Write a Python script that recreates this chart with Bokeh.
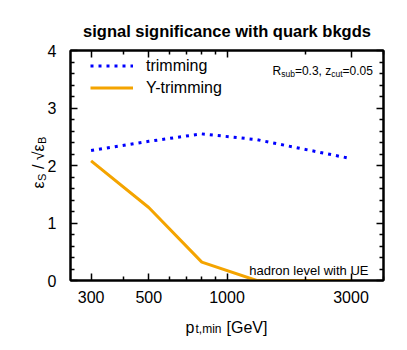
import math
from bokeh.plotting import figure
from bokeh.models import (FixedTicker, LogAxis, LinearAxis, Label, Legend,
                          LegendItem, Range1d)
from bokeh.embed import file_html
from bokeh.resources import INLINE

# ---- data ----
pt_min = [300, 500, 800, 1300, 3000]
trimming = [2.26, 2.42, 2.55, 2.45, 2.12]
y_trimming = [2.08, 1.27, 0.32, 0.0, 0.0]

x_ticks = [300, 500, 1000, 3000]
x_minor = [400, 600, 700, 800, 900, 2000, 4000]
y_ticks = [0, 1, 2, 3, 4]
y_minor = [i / 5 for i in range(21) if i % 5]

FONT = "Liberation Sans"
BLUE = "#0000ff"
ORANGE = "#f4a400"

p = figure(width=400, height=345, x_axis_type="log",
           x_range=Range1d(250, 4000), y_range=Range1d(0, 4),
           output_backend="svg", toolbar_location=None,
           min_border_left=70, min_border_right=17,
           min_border_top=50, min_border_bottom=65)
p.background_fill_color = "white"
p.border_fill_color = "white"
p.xgrid.visible = False
p.ygrid.visible = False
p.outline_line_color = "black"
p.outline_line_width = 2


def style(ax):
    ax.axis_line_width = 2
    ax.axis_line_color = "black"
    ax.major_tick_in = 7
    ax.major_tick_out = 0
    ax.minor_tick_in = 4
    ax.minor_tick_out = 0
    ax.major_tick_line_width = 1.5
    ax.minor_tick_line_width = 1.5
    ax.major_label_text_font = FONT
    ax.major_label_text_font_size = "16px"
    ax.major_label_text_color = "black"


xt = FixedTicker(ticks=x_ticks, minor_ticks=x_minor)
yt = FixedTicker(ticks=y_ticks, minor_ticks=y_minor)

p.xaxis.ticker = xt
p.yaxis.ticker = yt
style(p.xaxis[0])
style(p.yaxis[0])
p.xaxis.major_label_standoff = 10
p.yaxis.major_label_standoff = 14

top = LogAxis(ticker=xt, major_label_overrides={t: "" for t in x_ticks})
style(top)
top.major_label_standoff = 0
top.major_label_text_font_size = "1px"
p.add_layout(top, "above")

right = LinearAxis(ticker=yt, major_label_overrides={t: "" for t in y_ticks})
style(right)
right.major_label_standoff = 0
right.major_label_text_font_size = "1px"
p.add_layout(right, "right")

r1 = p.line(pt_min, trimming, line_color=BLUE, line_width=3,
            line_dash="3 5", line_cap="butt")
r2 = p.line(pt_min, y_trimming, line_color=ORANGE, line_width=3)

legend = Legend(items=[LegendItem(label="trimming", renderers=[r1]),
                       LegendItem(label="Y-trimming", renderers=[r2])],
                location=(20, 183), glyph_width=43, glyph_height=19,
                label_height=19, spacing=3, padding=7, margin=0,
                label_standoff=13, label_text_font_size="16px",
                label_text_font=FONT, label_text_color="black",
                border_line_color=None, background_fill_alpha=0)
p.add_layout(legend)


def lab(x, y, xo, yo, t, size, align="left", angle=0, side="center",
        bold=False):
    lbl = Label(x=x, y=y, x_offset=xo, y_offset=yo, text=t,
                text_font=FONT, text_font_size=f"{size}px",
                text_color="black",
                text_align=align, text_baseline="alphabetic",
                text_font_style="bold" if bold else "normal",
                angle=angle)
    p.add_layout(lbl, side)


# title (outside the frame -> side panel, not clipped)
lab(1000, 4, 0, 20, "signal significance with quark bkgds", 16.5,
    align="center", side="above", bold=True)

# annotations inside the frame
lab(4000, 0, -15, 10, "hadron level with UE", 13, align="right")
lab(250, 4, 202, -20.7, "R", 12)
lab(250, 4, 210.7, -23.5, "sub", 8.5)
lab(250, 4, 224.4, -20.7, "=0.3, z", 12)
lab(250, 4, 260.8, -23.5, "cut", 8.5)
lab(250, 4, 272.1, -20.7, "=0.05", 12)

# x axis label p_{t,min} [GeV]
lab(250, 0, 115, -46.5, "p", 16, side="left")
lab(250, 0, 125, -48.5, "t,min", 12, side="below")
lab(250, 0, 156, -46.5, "[GeV]", 16, side="below")

# y axis label eps_S / sqrt(eps_B)
A = math.pi / 2
lab(250, 0, -32, 92, "\u03b5", 16, angle=A, side="above")
lab(250, 0, -28.5, 99.5, "S", 11, angle=A, side="above")
lab(250, 0, -32, 111.4, "/ \u221a\u03b5", 16, angle=A, side="left")
lab(250, 0, -28.5, 136.5, "B", 11, angle=A, side="above")

open("out.html", "w").write(file_html(p, INLINE))
